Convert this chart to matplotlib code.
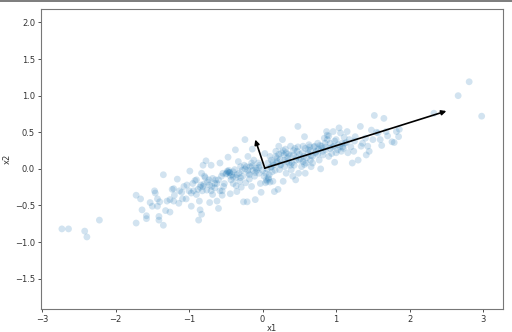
import matplotlib
matplotlib.use("Agg")
import matplotlib.pyplot as plt
from matplotlib.lines import Line2D

x1 = [-2.73, -2.64, -2.42, -2.39, -2.22, -1.72, -1.72, -1.66, -1.64, -1.58, -1.58, -1.53, -1.50, -1.47,
      -1.46, -1.43, -1.43, -1.41, -1.41, -1.40, -1.35, -1.35, -1.32, -1.26, -1.26, -1.23, -1.21, -1.21,
      -1.16, -1.14, -1.13, -1.09, -1.07, -1.04, -1.03, -0.99, -0.97, -0.97, -0.94, -0.92, -0.90, -0.87,
      -0.86, -0.85, -0.84, -0.83, -0.83, -0.82, -0.81, -0.81, -0.80, -0.79, -0.77, -0.76, -0.73, -0.72,
      -0.70, -0.69, -0.68, -0.68, -0.65, -0.64, -0.62, -0.60, -0.58, -0.58, -0.56, -0.55, -0.54, -0.53,
      -0.52, -0.49, -0.47, -0.47, -0.45, -0.44, -0.43, -0.40, -0.38, -0.37, -0.36, -0.35, -0.33, -0.32,
      -0.31, -0.30, -0.29, -0.27, -0.26, -0.24, -0.23, -0.22, -0.21, -0.20, -0.19, -0.18, -0.17, -0.15,
      -0.14, -0.13, -0.12, -0.11, -0.10, -0.09, -0.06, -0.05, -0.03, -0.02, 0.03, 0.04, 0.05, 0.06,
      0.07, 0.09, 0.10, 0.12, 0.13, 0.14, 0.16, 0.18, 0.19, 0.21, 0.22, 0.23, 0.24, 0.27, 0.28, 0.29,
      0.30, 0.31, 0.32, 0.34, 0.36, 0.38, 0.39, 0.41, 0.42, 0.43, 0.45, 0.47, 0.48, 0.49, 0.50, 0.53,
      0.55, 0.56, 0.57, 0.58, 0.59, 0.62, 0.63, 0.65, 0.66, 0.68, 0.71, 0.73, 0.75, 0.77, 0.79, 0.80,
      0.82, 0.84, 0.86, 0.87, 0.88, 0.90, 0.92, 0.94, 0.96, 0.97, 0.98, 1.00, 1.02, 1.04, 1.06, 1.07,
      1.08, 1.10, 1.11, 1.15, 1.16, 1.18, 1.22, 1.24, 1.26, 1.30, 1.33, 1.34, 1.36, 1.41, 1.43, 1.45,
      1.48, 1.52, 1.57, 1.62, 1.65, 1.68, 1.76, 1.79, 1.82, 1.85, 1.86, 2.33, 2.66, 2.81, 2.98,
      -0.45, -0.42, -0.48, -0.05, 0.00, 0.08, 0.10, 0.04, 0.15, 0.20, 0.25, 0.30, 0.35, 0.45, 0.55,
      0.60, 0.65, 0.70, 0.78, 0.85, 0.90, 0.95, 1.00, 0.50, 0.42, -0.15, -0.20, -0.25, -0.30, -0.35,
      -0.60, -0.65, -0.70, -0.75, -0.85, -0.90, -1.00, -0.55, -0.40, -0.10, 0.12, 0.22, 0.28, 0.38,
      0.48, 0.58, 0.68, 0.75, 0.80, 0.88, 1.05, 1.12, 1.20, 1.25, 1.40, 1.50, 1.55, 1.70, 1.60,
      -0.50, -0.46, -0.44, -0.40, -0.36, -0.28, -0.24, -0.18, -0.14, -0.08, -0.04, 0.02, 0.06, 0.08,
      0.11, 0.14, 0.17, 0.20, 0.24, 0.26, 0.33, 0.37, 0.40, 0.44, 0.52, 0.54, 0.57, 0.62, 0.66, 0.72,
      0.76, 0.82, 0.86, 0.92, 0.98, 1.03, 1.09, 1.14, -0.62, -0.72, -0.78, -0.88, -0.95, -1.10, -1.20,
      -1.30, 0.18, 0.32, 0.46, 0.64]
x2 = [-0.82, -0.82, -0.85, -0.93, -0.70, -0.36, -0.74, -0.41, -0.56, -0.64, -0.68, -0.46, -0.51, -0.30,
      -0.33, -0.41, -0.51, -0.65, -0.70, -0.45, -0.08, -0.77, -0.57, -0.59, -0.42, -0.28, -0.44, -0.27,
      -0.14, -0.47, -0.30, -0.41, -0.24, -0.41, -0.22, -0.03, -0.51, -0.33, -0.30, -0.16, -0.15, -0.70,
      -0.44, -0.56, -0.22, -0.06, -0.62, -0.30, 0.05, -0.24, -0.21, -0.10, 0.11, -0.29, -0.15, -0.46,
      0.05, -0.24, -0.13, -0.35, -0.26, -0.15, -0.44, -0.54, 0.08, -0.30, -0.10, -0.36, -0.06, -0.24,
      -0.20, -0.06, -0.04, 0.16, -0.05, -0.34, -0.15, -0.11, -0.01, 0.26, -0.23, -0.31, 0.10, -0.06,
      -0.17, 0.03, -0.25, -0.10, -0.45, 0.40, -0.19, 0.03, -0.45, 0.17, -0.06, -0.14, 0.03, -0.24,
      0.27, -0.02, 0.12, -0.10, -0.42, 0.01, 0.08, -0.06, -0.20, -0.32, 0.21, -0.06, -0.15, -0.17,
      0.08, -0.08, 0.17, 0.03, -0.04, -0.17, -0.31, 0.17, 0.08, -0.28, 0.31, -0.01, 0.13, 0.40, -0.17,
      0.19, 0.03, 0.27, -0.06, 0.15, 0.08, 0.31, -0.01, -0.10, 0.19, 0.05, -0.15, 0.24, 0.58, -0.06,
      0.12, 0.03, 0.31, 0.17, 0.44, -0.06, 0.08, 0.21, 0.33, 0.12, 0.03, 0.17, 0.31, 0.24, 0.35, 0.12,
      0.00, 0.31, 0.19, 0.42, 0.26, 0.51, 0.46, 0.17, 0.35, 0.21, 0.51, 0.31, 0.09, 0.40, 0.26, 0.56,
      0.49, 0.24, 0.35, 0.28, 0.43, 0.51, 0.22, 0.40, 0.08, 0.24, 0.44, 0.12, 0.58, 0.31, 0.35, 0.19,
      0.31, 0.24, 0.53, 0.73, 0.49, 0.32, 0.69, 0.51, 0.37, 0.36, 0.51, 0.44, 0.54, 0.76, 1.00, 1.19, 0.72,
      -0.05, -0.08, -0.03, 0.02, -0.02, -0.12, -0.18, -0.19, 0.05, 0.10, 0.06, 0.12, 0.20, 0.12, 0.10,
      0.15, 0.25, 0.30, 0.32, 0.35, 0.45, 0.30, 0.22, 0.20, 0.25, 0.08, -0.02, 0.05, -0.12, -0.08,
      -0.15, -0.20, -0.30, -0.18, -0.25, -0.35, -0.30, -0.30, -0.20, -0.05, 0.12, 0.20, 0.25, 0.05,
      0.30, 0.28, 0.08, 0.20, 0.28, 0.40, 0.30, 0.35, 0.30, 0.38, 0.42, 0.40, 0.50, 0.45, 0.40,
      -0.07, -0.02, -0.10, -0.04, -0.12, -0.02, 0.00, -0.08, 0.04, -0.02, 0.05, -0.10, 0.00, -0.14,
      0.02, 0.09, -0.02, 0.15, 0.05, 0.22, 0.10, 0.18, 0.08, 0.28, 0.14, 0.22, 0.06, 0.26, 0.18, 0.22,
      0.27, 0.24, 0.30, 0.28, 0.38, 0.33, 0.30, 0.36, -0.20, -0.22, -0.12, -0.28, -0.20, -0.32, -0.36,
      -0.44, 0.24, 0.22, 0.16, 0.30]

mean = [0.03, 0.01]
vec_long = [2.50, 0.79]
vec_short = [-0.10, 0.40]

fig = plt.figure(figsize=(5.12, 3.32), dpi=100)
ax = fig.add_axes([0.0807, 0.0702, 0.9017, 0.9018])
ax.scatter(x1, x2, s=24, alpha=0.2, color='#1f77b4', edgecolors='none')

for end in (vec_long, vec_short):
    ax.annotate('', xy=end, xytext=mean,
                arrowprops=dict(arrowstyle='-|>', color='black', linewidth=1.2,
                                shrinkA=0, shrinkB=0, mutation_scale=7))

ax.set_xlim(-3.01, 3.27)
ax.set_ylim(-1.91, 2.18)
ax.set_xticks([-3, -2, -1, 0, 1, 2, 3])
ax.set_yticks([-1.5, -1.0, -0.5, 0.0, 0.5, 1.0, 1.5, 2.0])
ax.tick_params(labelsize=6, length=2.5, width=0.6, pad=2, colors='#333333')
for sp in ax.spines.values():
    sp.set_color('#777777')
    sp.set_linewidth(0.8)
ax.set_xlabel('x1', fontsize=6, labelpad=0, color='#333333')
ax.set_ylabel('x2', fontsize=6, labelpad=2, color='#333333')

fig.add_artist(Line2D([0, 1], [0.998, 0.998], transform=fig.transFigure, color='#666666', linewidth=1.2))

fig.savefig('out.png', dpi=100)
